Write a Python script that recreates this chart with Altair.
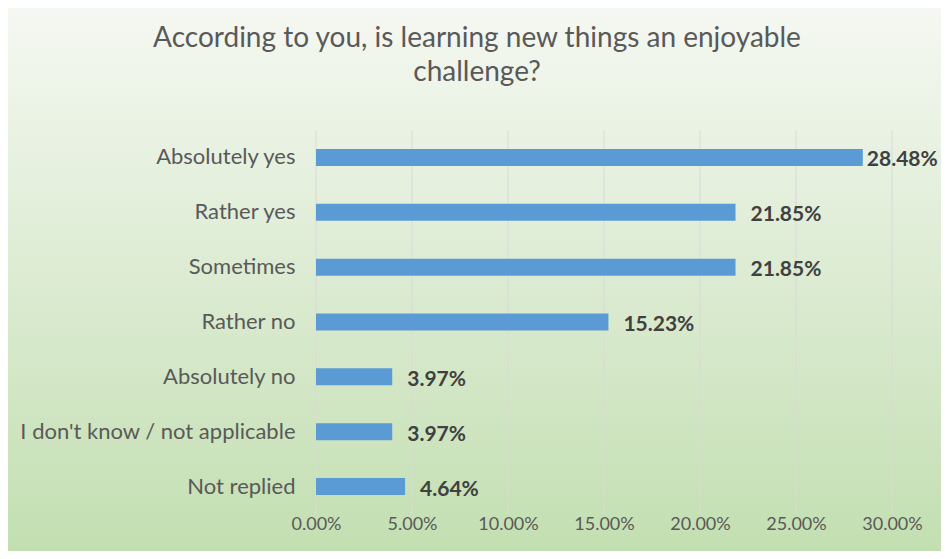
import altair as alt
import pandas as pd

categories = ["Absolutely yes", "Rather yes", "Sometimes", "Rather no",
              "Absolutely no", "I don't know / not applicable", "Not replied"]
values = [28.48, 21.85, 21.85, 15.23, 3.97, 3.97, 4.64]
labels = ["28.48%", "21.85%", "21.85%", "15.23%", "3.97%", "3.97%", "4.64%"]
x_ticks = [0, 5, 10, 15, 20, 25, 30]
title_lines = ["According to you, is learning new things an enjoyable", "challenge?"]

df = pd.DataFrame({"cat": categories, "val": values, "lab": labels})

W, H = 576, 384
PL, PT, PR, PB = 308, 122, 49, 37
FONT = "Lato"
GRAY = "#595959"

bg = alt.Chart(alt.Data(values=[{}])).mark_rect(
    color=alt.Gradient(
        gradient="linear", x1=0, y1=0, x2=0, y2=1,
        stops=[alt.GradientStop(offset=0, color="#f5f8f2"),
               alt.GradientStop(offset=0.5, color="#dcebd2"),
               alt.GradientStop(offset=1, color="#c3dfb1")]),
    clip=False,
).encode(
    x=alt.value(-PL), x2=alt.value(W + PR),
    y=alt.value(-PT), y2=alt.value(H + PB),
)

title1 = alt.Chart(alt.Data(values=[{"t": title_lines[0]}])).mark_text(
    fontSize=28, font=FONT, color=GRAY, align="center", baseline="alphabetic").encode(
    x=alt.value(161), y=alt.value(-83), text="t:N")
title2 = alt.Chart(alt.Data(values=[{"t": title_lines[1]}])).mark_text(
    fontSize=28, font=FONT, color=GRAY, align="center", baseline="alphabetic").encode(
    x=alt.value(161), y=alt.value(-49), text="t:N")

grid = alt.Chart(pd.DataFrame({"t": x_ticks})).mark_rule(color="#d9d9d9", strokeWidth=1).encode(
    x=alt.X("t:Q", scale=alt.Scale(domain=[0, 30], nice=False)),
    y=alt.value(0), y2=alt.value(H))

yenc = alt.Y("cat:N", sort=categories,
             scale=alt.Scale(paddingInner=0.69, paddingOuter=0.345),
             axis=alt.Axis(title=None, domain=False, ticks=False, labelPadding=21,
                           labelFontSize=22, labelColor=GRAY, labelFont=FONT,
                           labelLimit=0, zindex=2))
xenc = alt.X("val:Q", scale=alt.Scale(domain=[0, 30], nice=False),
             axis=alt.Axis(title=None, values=x_ticks, domain=False, ticks=False,
                           labelExpr="format(datum.value, '.2f') + '%'",
                           labelPadding=1, labelFontSize=18, labelColor=GRAY,
                           labelFont=FONT, grid=False, labelBaseline="top",
                           labelFlush=False, zindex=2))

bars = alt.Chart(df).mark_bar(color="#5b9bd5").encode(x=xenc, y=yenc)

text_base = alt.Chart(df).encode(
    x="val:Q", y=alt.Y("cat:N", sort=categories), text="lab:N")
text_main = text_base.transform_filter("datum.val < 25").mark_text(
    align="left", dx=15, dy=3, fontSize=21, fontWeight="bold", color="#404040", font=FONT)
text_edge = text_base.transform_filter("datum.val >= 25").mark_text(
    align="left", dx=4, dy=3, fontSize=21, fontWeight="bold", color="#404040", font=FONT)

chart = alt.layer(bg, grid, bars, text_main, text_edge, title1, title2).properties(
    width=W, height=H,
    autosize=alt.AutoSizeParams(type="none"),
    padding={"left": PL, "top": PT, "right": PR, "bottom": PB},
).configure_view(stroke=None)

chart.save("out.html", embed_options={"renderer": "svg", "actions": False})
